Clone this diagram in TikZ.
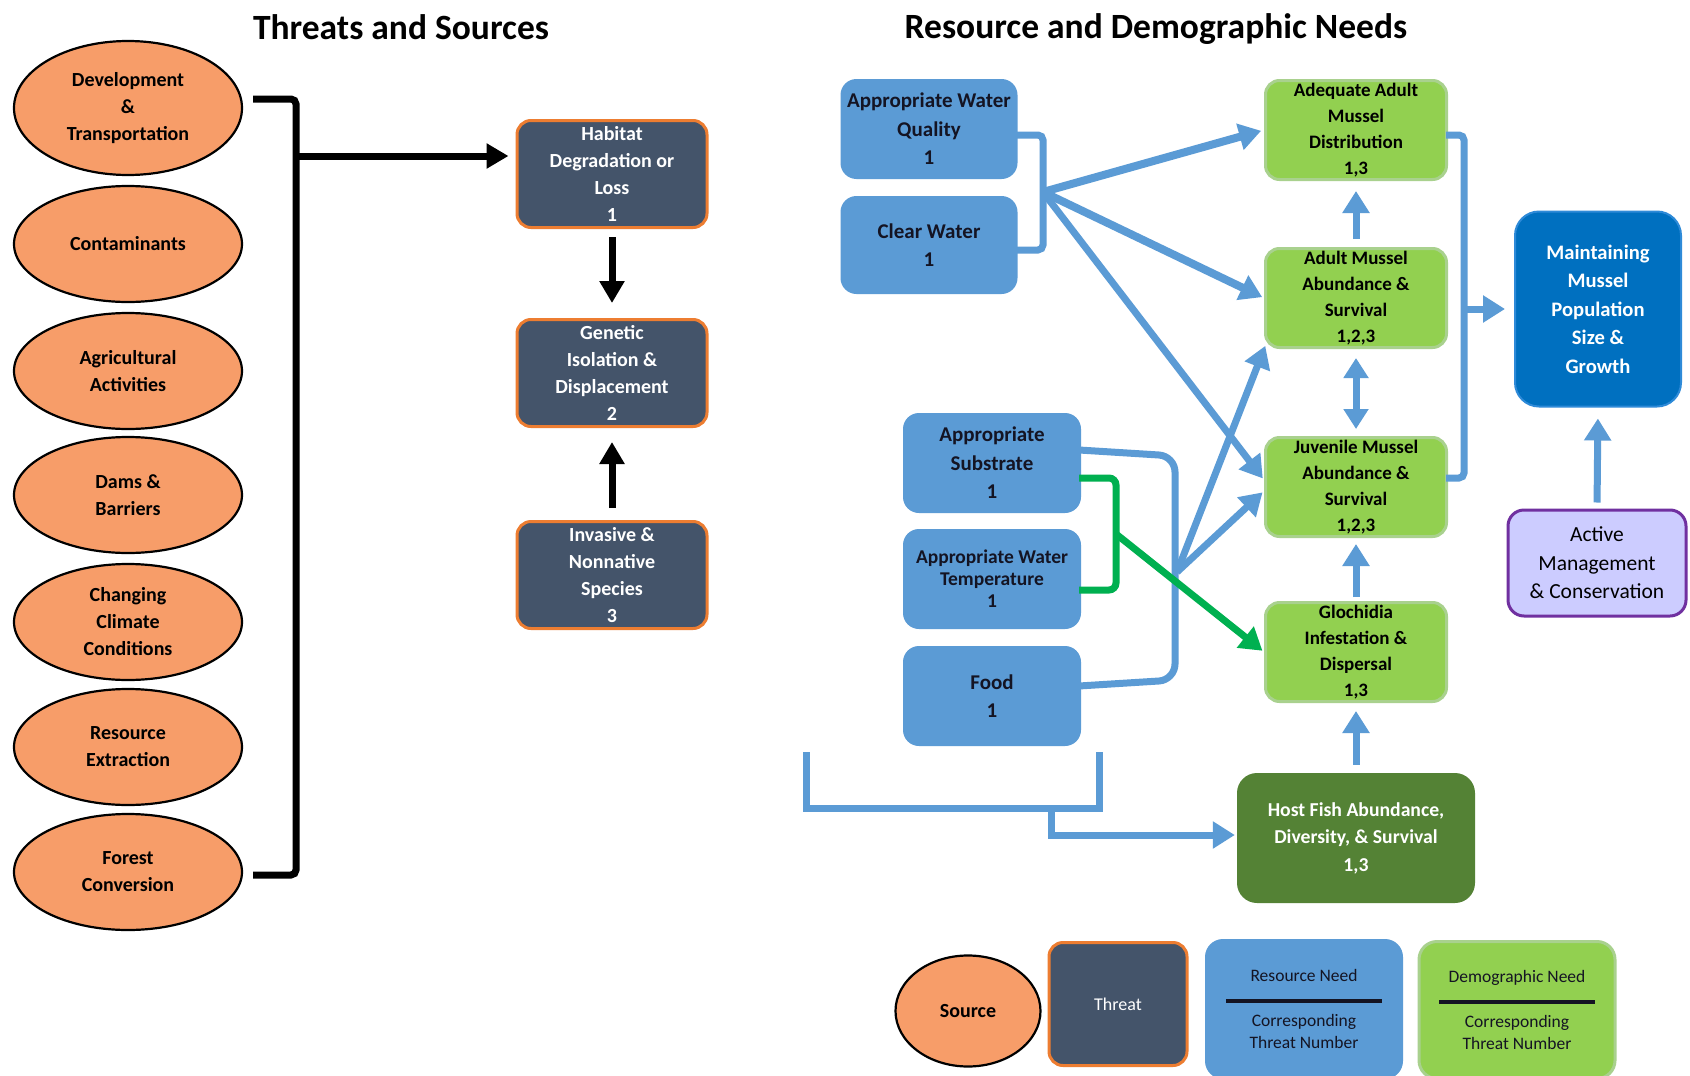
\documentclass[tikz,border=0pt]{standalone}
\usepackage{fontspec}
\setmainfont{Carlito}
\usetikzlibrary{shapes.geometric,arrows.meta}

\definecolor{srcfill}{HTML}{F79D69}
\definecolor{thrfill}{HTML}{44546A}
\definecolor{thrdraw}{HTML}{ED7D31}
\definecolor{resfill}{HTML}{5B9BD5}
\definecolor{demfill}{HTML}{92D050}
\definecolor{demdraw}{HTML}{A9D18E}
\definecolor{hostfill}{HTML}{548235}
\definecolor{popfill}{HTML}{0070C0}
\definecolor{popdraw}{HTML}{2E8AD8}
\definecolor{actfill}{HTML}{CCCCFF}
\definecolor{actdraw}{HTML}{7030A0}
\definecolor{linkblue}{HTML}{5B9BD5}
\definecolor{linkgreen}{HTML}{00B050}
\definecolor{txtdark}{HTML}{141423}

\tikzset{
  titletext/.style={font=\fontsize{35.5}{40}\selectfont\bfseries, inner sep=0pt},
  srcnode/.style={ellipse, draw=black, line width=2.2pt, fill=srcfill,
    minimum width=228pt, minimum height=116pt, inner sep=0pt, align=center,
    text=black, font=\fontsize{20}{27}\selectfont\bfseries},
  thrnode/.style={rectangle, rounded corners=14pt, draw=thrdraw, line width=3pt,
    fill=thrfill, minimum width=190pt, minimum height=107pt, inner sep=0pt,
    text=white, align=center, font=\fontsize{20}{27}\selectfont\bfseries},
  resnode/.style={rectangle, rounded corners=16pt, fill=resfill, draw=none,
    minimum width=177pt, minimum height=98pt, inner sep=0pt, align=center,
    text=txtdark, font=\fontsize{21}{28.5}\selectfont\bfseries},
  demnode/.style={rectangle, rounded corners=14pt, fill=demfill, draw=demdraw,
    line width=3pt, minimum width=181pt, minimum height=99pt, inner sep=0pt,
    align=center, text=black, font=\fontsize{19}{26}\selectfont\bfseries},
  blk/.style={line width=7pt, draw=black},
  blkarrow/.style={blk, -{Triangle[length=22pt,width=24pt]}},
  bl/.style={line width=7pt, draw=linkblue},
  blarrow/.style={bl, -{Triangle[length=22pt,width=26pt]}},
  bldouble/.style={bl, {Triangle[length=20pt,width=24pt]}-{Triangle[length=20pt,width=24pt]}},
  gr/.style={line width=7pt, draw=linkgreen},
  grarrow/.style={gr, -{Triangle[length=22pt,width=26pt]}},
}

\begin{document}
\begin{tikzpicture}[x=1pt,y=-1pt]
\useasboundingbox[fill=white] (0,0) rectangle (1690,1076);

% titles
\node[titletext] (t1) at (401,27) {Threats and Sources};
\node[titletext] (t2) at (1156,29) {Resource and Demographic Needs};

% sources
\node[srcnode, minimum height=134pt] (d1) at (128,108) {Development\\\&\\Transportation};
\node[srcnode] (d2) at (128,244) {Contaminants};
\node[srcnode] (d3) at (128,371) {Agricultural\\Activities};
\node[srcnode] (d4) at (128,495) {Dams \&\\Barriers};
\node[srcnode] (d5) at (128,622) {Changing\\Climate\\Conditions};
\node[srcnode] (d6) at (128,747) {Resource\\Extraction};
\node[srcnode] (d7) at (128,872) {Forest\\Conversion};

% threats
\node[thrnode] (hab) at (612,174) {Habitat\\Degradation or\\Loss\\1};
\node[thrnode] (gen) at (612,373) {Genetic\\Isolation \&\\Displacement\\2};
\node[thrnode] (inv) at (612,575) {Invasive \&\\Nonnative\\Species\\3};

% resource needs
\node[resnode, minimum height=100pt] (awq) at (929,129) {Appropriate Water\\Quality\\1};
\node[resnode] (cw) at (929,245) {Clear Water\\1};
\node[resnode, minimum width=178pt, minimum height=100pt] (sub) at (992,463) {Appropriate\\Substrate\\1};
\node[resnode, minimum width=178pt, minimum height=100pt,
      font=\fontsize{19.5}{22}\selectfont\bfseries] (tmp) at (992,579) {Appropriate Water\\Temperature\\1};
\node[resnode, minimum width=178pt, minimum height=100pt] (food) at (992,696) {Food\\1};

% demographic needs
\node[demnode] (ada) at (1356,130) {Adequate Adult\\Mussel\\Distribution\\1,3};
\node[demnode] (adu) at (1356,298) {Adult Mussel\\Abundance \&\\Survival\\1,2,3};
\node[demnode] (juv) at (1356,487) {Juvenile Mussel\\Abundance \&\\Survival\\1,2,3};
\node[demnode] (glo) at (1356,652) {Glochidia\\Infestation \&\\Dispersal\\1,3};
\node[rectangle, rounded corners=20pt, fill=hostfill, minimum width=238pt, minimum height=130pt,
      inner sep=0pt, align=center, text=white, font=\fontsize{19.7}{27.5}\selectfont\bfseries]
      (hf) at (1356,838) {Host Fish Abundance,\\Diversity, \& Survival\\1,3};

% population
\node[rectangle, rounded corners=24pt, fill=popfill, draw=popdraw, line width=2pt,
      minimum width=166pt, minimum height=195pt, inner sep=0pt, align=center, text=white,
      font=\fontsize{20.6}{28.5}\selectfont\bfseries]
      (pop) at (1598,309) {Maintaining\\Mussel\\Population\\Size \&\\Growth};
\node[rectangle, rounded corners=16pt, fill=actfill, draw=actdraw, line width=3pt,
      minimum width=178pt, minimum height=106pt, inner sep=0pt, align=center, text=black,
      font=\fontsize{21.5}{28.5}\selectfont]
      (act) at (1597,563) {Active\\Management\\\& Conservation};

% ---- black connectors (threats and sources)
\coordinate (bt) at (253,99);
\coordinate (bb) at (253,875);
\coordinate (bj) at (296,156);
\draw[blk, rounded corners=5pt] (bt) -- (296,99) -- (296,875) -- (bb);
\draw[blkarrow, shorten >=7pt] (bj) -- (bj -| hab.west);
\draw[blkarrow, shorten <=8pt, shorten >=15pt] (hab.south) -- (gen.north);
\draw[blkarrow, shorten <=12pt, shorten >=14pt] (inv.north) -- (gen.south);

% ---- blue connectors
\coordinate (q1) at (1016,135);
\coordinate (q2) at (1016,250);
\coordinate (j1) at (1043,192);
\draw[bl, rounded corners=5pt] (q1) -- (1043,135) -- (1043,250) -- (q2);
\draw[blarrow, line width=8pt, shorten >=3pt] (j1) -- (ada.west);
\draw[blarrow, line width=8pt, shorten >=2pt] (j1) -- (adu.west);
\draw[blarrow, shorten >=2pt] (j1) -- ([yshift=7pt]juv.west);

\coordinate (s1) at (1079,450);
\coordinate (s2) at (1079,686);
\coordinate (j2) at (1177,572);
\draw[bl, rounded corners=16pt] (s1) -- (1175,456) -- (1175,680) -- (s2);
\draw[blarrow, shorten >=2pt] (j2) -- ([xshift=2pt,yshift=5pt]adu.south west);
\draw[blarrow, shorten >=2pt] (j2) -- ([yshift=-4pt]juv.west);

\coordinate (b1) at (806,752);
\coordinate (b2) at (1099,752);
\coordinate (j4) at (1051,808);
\draw[bl] (b1) -- (806,808) -- (1099,808) -- (b2);
\draw[blarrow, shorten >=2pt] (j4) |- ([yshift=3pt]hf.west);

\draw[blarrow, shorten <=8pt, shorten >=10pt] (adu.north) -- (ada.south);
\draw[bldouble, shorten <=9pt, shorten >=7pt] (adu.south) -- (juv.north);
\draw[blarrow, shorten <=4pt, shorten >=6pt] (glo.north) -- (juv.south);
\draw[blarrow, shorten <=8pt, shorten >=8pt] (hf.north) -- (glo.south);

\coordinate (r1) at (1446,135);
\coordinate (r2) at (1446,478);
\coordinate (j5) at (1464,309);
\draw[bl, rounded corners=5pt] (r1) -- (1464,135) -- (1464,478) -- (r2);
\draw[blarrow, shorten >=9pt] (j5) -- (j5 -| pop.west);
\draw[blarrow, shorten <=6pt, shorten >=11pt] (act.north) -- (pop.south);

% ---- green connector
\coordinate (g1) at (1079,478);
\coordinate (g2) at (1079,590);
\coordinate (j3) at (1116,534);
\draw[gr, rounded corners=7pt] (g1) -- (1116,478) -- (1116,590) -- (g2);
\draw[grarrow, shorten >=2pt] (j3) -- (glo.west);

% ---- legend
\node[ellipse, draw=black, line width=2.2pt, fill=srcfill, minimum width=145pt,
      minimum height=111pt, inner sep=0pt, font=\fontsize{20}{24}\selectfont\bfseries]
      (lsrc) at (968,1011) {Source};
\node[rectangle, rounded corners=14pt, draw=thrdraw, line width=3pt, fill=thrfill,
      minimum width=138pt, minimum height=123pt, inner sep=0pt, text=white,
      font=\fontsize{18}{22}\selectfont]
      (lthr) at (1118,1004) {Threat};
\node[rectangle, rounded corners=18pt, fill=resfill, minimum width=198pt,
      minimum height=140pt, inner sep=0pt, align=center, text=txtdark,
      font=\fontsize{17.5}{22}\selectfont]
      (lres) at (1304,1009) {Resource Need\\[-1pt]\rule{156pt}{4pt}\\[2pt]Corresponding\\Threat Number};
\node[rectangle, rounded corners=18pt, fill=demfill, draw=demdraw, line width=3pt,
      minimum width=196pt, minimum height=137pt, inner sep=0pt, align=center, text=txtdark,
      font=\fontsize{17.5}{22}\selectfont]
      (ldem) at (1517,1010) {Demographic Need\\[-1pt]\rule{156pt}{4pt}\\[2pt]Corresponding\\Threat Number};
\end{tikzpicture}
\end{document}
